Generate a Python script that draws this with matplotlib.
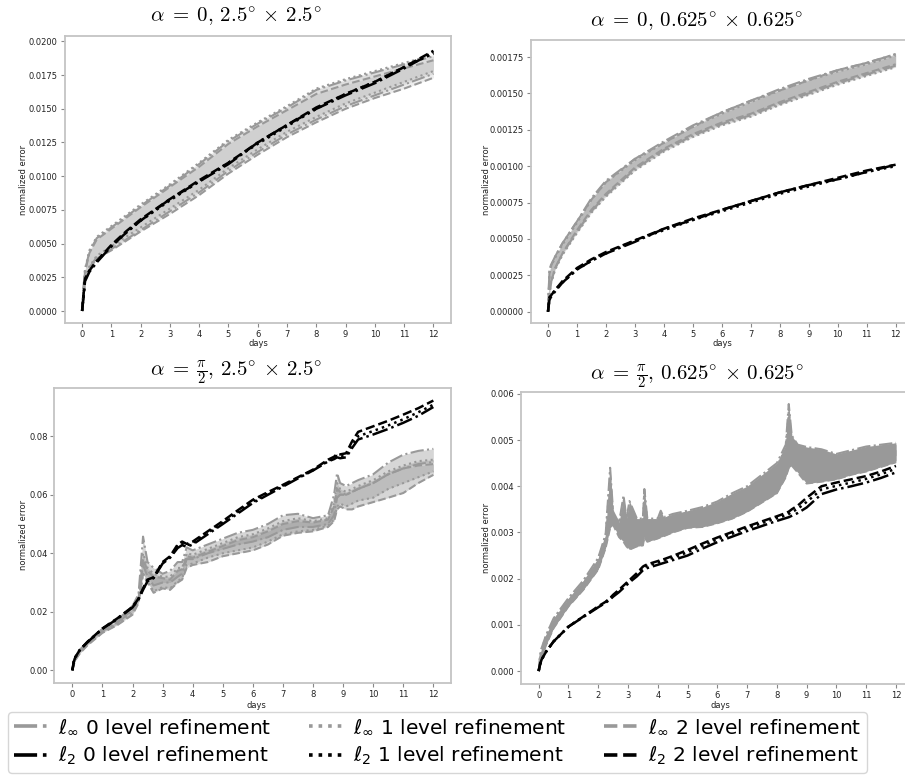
import numpy as np
import matplotlib
matplotlib.use("Agg")
import matplotlib.pyplot as plt
from matplotlib.ticker import FormatStrFormatter, MultipleLocator

# ---------------- data ----------------
days_top = [0, 0.05, 0.1, 0.25, 0.5, 1, 1.5, 2, 3, 4, 5, 6, 7, 8, 9, 10, 11, 12]

# alpha = 0, 2.5 x 2.5
tl_l2_0 = [0, 0.0010, 0.0022, 0.0029, 0.0036, 0.0048, 0.0058, 0.0067, 0.0083, 0.0096, 0.0109, 0.0125, 0.0138, 0.0150, 0.0160, 0.0169, 0.0180, 0.0192]
tl_l2_1 = [0, 0.0011, 0.0023, 0.0030, 0.0037, 0.0048, 0.0058, 0.0067, 0.0082, 0.0096, 0.0110, 0.0124, 0.0137, 0.0150, 0.0161, 0.0170, 0.0181, 0.0191]
tl_l2_2 = [0, 0.0012, 0.0024, 0.0030, 0.0037, 0.0049, 0.0059, 0.0068, 0.0083, 0.0097, 0.0110, 0.0125, 0.0138, 0.0151, 0.0161, 0.0170, 0.0181, 0.0193]
tl_linf_0_hi = [0, 0.0018, 0.0030, 0.0044, 0.0054, 0.0062, 0.0070, 0.0078, 0.0093, 0.0109, 0.0126, 0.0139, 0.0151, 0.0164, 0.0171, 0.0177, 0.0183, 0.0189]
tl_linf_0_lo = [0, 0.0010, 0.0024, 0.0032, 0.0040, 0.0046, 0.0053, 0.0060, 0.0074, 0.0088, 0.0104, 0.0118, 0.0131, 0.0142, 0.0152, 0.0160, 0.0168, 0.0176]
tl_linf_1_hi = [0, 0.0017, 0.0031, 0.0045, 0.0055, 0.0063, 0.0071, 0.0079, 0.0094, 0.0110, 0.0127, 0.0140, 0.0152, 0.0165, 0.0172, 0.0178, 0.0184, 0.0190]
tl_linf_1_lo = [0, 0.0011, 0.0025, 0.0033, 0.0041, 0.0048, 0.0055, 0.0062, 0.0076, 0.0090, 0.0106, 0.0120, 0.0133, 0.0144, 0.0154, 0.0162, 0.0170, 0.0178]
tl_linf_2_hi = [0, 0.0016, 0.0029, 0.0043, 0.0053, 0.0061, 0.0069, 0.0077, 0.0092, 0.0107, 0.0124, 0.0137, 0.0149, 0.0161, 0.0168, 0.0174, 0.0180, 0.0186]
tl_linf_2_lo = [0, 0.0010, 0.0023, 0.0031, 0.0039, 0.0045, 0.0052, 0.0059, 0.0072, 0.0086, 0.0102, 0.0116, 0.0129, 0.0140, 0.0150, 0.0158, 0.0165, 0.0173]

# alpha = 0, 0.625 x 0.625
tr_l2_0 = [0, 0.00008, 0.00010, 0.00014, 0.00020, 0.00029, 0.00035, 0.00040, 0.00048, 0.00057, 0.00063, 0.00070, 0.00076, 0.00082, 0.00087, 0.00091, 0.00096, 0.00101]
tr_l2_1 = [0, 0.00009, 0.00011, 0.00015, 0.00020, 0.00029, 0.00035, 0.00040, 0.00049, 0.00056, 0.00063, 0.00069, 0.00075, 0.00081, 0.00086, 0.00091, 0.00096, 0.00100]
tr_l2_2 = [0, 0.00010, 0.00011, 0.00015, 0.00021, 0.00030, 0.00036, 0.00041, 0.00049, 0.00057, 0.00064, 0.00070, 0.00076, 0.00082, 0.00087, 0.00092, 0.00097, 0.00101]
tr_linf_0_hi = [0, 0.00028, 0.00032, 0.00038, 0.00047, 0.00062, 0.00078, 0.00090, 0.00105, 0.00117, 0.00128, 0.00137, 0.00145, 0.00153, 0.00160, 0.00166, 0.00171, 0.00177]
tr_linf_0_lo = [0, 0.00012, 0.00020, 0.00030, 0.00040, 0.00055, 0.00069, 0.00080, 0.00098, 0.00111, 0.00121, 0.00129, 0.00135, 0.00143, 0.00150, 0.00157, 0.00163, 0.00169]
tr_linf_1_hi = [0, 0.00026, 0.00031, 0.00037, 0.00046, 0.00061, 0.00077, 0.00089, 0.00104, 0.00116, 0.00127, 0.00136, 0.00144, 0.00152, 0.00159, 0.00165, 0.00170, 0.00176]
tr_linf_1_lo = [0, 0.00011, 0.00019, 0.00029, 0.00039, 0.00054, 0.00068, 0.00079, 0.00097, 0.00110, 0.00120, 0.00128, 0.00134, 0.00142, 0.00149, 0.00156, 0.00162, 0.00168]
tr_linf_2_hi = [0, 0.00027, 0.00031, 0.00038, 0.00047, 0.00062, 0.00077, 0.00089, 0.00105, 0.00116, 0.00127, 0.00137, 0.00145, 0.00152, 0.00159, 0.00166, 0.00171, 0.00177]
tr_linf_2_lo = [0, 0.00012, 0.00020, 0.00030, 0.00040, 0.00056, 0.00070, 0.00081, 0.00099, 0.00112, 0.00122, 0.00130, 0.00136, 0.00144, 0.00151, 0.00158, 0.00164, 0.00170]

# alpha = pi/2, 2.5 x 2.5
days_bl = [0, 0.05, 0.1, 0.25, 0.5, 1, 1.5, 2, 2.2, 2.35, 2.5, 2.7, 3, 3.25, 3.5, 3.65, 3.8, 4, 4.5, 5,
           5.5, 6, 6.5, 7, 7.5, 8, 8.5, 8.7, 8.8, 8.9, 9.1, 9.3, 9.5, 10, 10.5, 11, 11.5, 12]
bl_l2_0 = [0, 0.0030, 0.0045, 0.0069, 0.0096, 0.0142, 0.0176, 0.0215, 0.0243, 0.0275, 0.0305, 0.0315, 0.0365, 0.0385, 0.0418, 0.0428, 0.0422, 0.0430, 0.0465, 0.0500,
           0.0536, 0.0572, 0.0600, 0.0628, 0.0656, 0.0683, 0.0714, 0.0722, 0.0728, 0.0725, 0.0728, 0.0760, 0.0789, 0.0806, 0.0825, 0.0846, 0.0870, 0.0900]
bl_l2_1 = [0, 0.0030, 0.0045, 0.0070, 0.0096, 0.0142, 0.0177, 0.0216, 0.0244, 0.0278, 0.0308, 0.0316, 0.0368, 0.0388, 0.0425, 0.0434, 0.0427, 0.0435, 0.0470, 0.0505,
           0.0541, 0.0577, 0.0604, 0.0631, 0.0658, 0.0684, 0.0716, 0.0725, 0.0733, 0.0730, 0.0734, 0.0770, 0.0800, 0.0818, 0.0837, 0.0858, 0.0882, 0.0908]
bl_l2_2 = [0, 0.0030, 0.0045, 0.0070, 0.0097, 0.0143, 0.0178, 0.0217, 0.0245, 0.0280, 0.0310, 0.0318, 0.0370, 0.0390, 0.0430, 0.0440, 0.0432, 0.0440, 0.0475, 0.0510,
           0.0547, 0.0583, 0.0609, 0.0634, 0.0660, 0.0686, 0.0720, 0.0730, 0.0740, 0.0738, 0.0742, 0.0783, 0.0815, 0.0834, 0.0853, 0.0874, 0.0896, 0.0922]
bl_linf_0_hi = [0, 0.0030, 0.0045, 0.0070, 0.0098, 0.0142, 0.0172, 0.0220, 0.0260, 0.0457, 0.0370, 0.0350, 0.0330, 0.0340, 0.0370, 0.0370, 0.0420, 0.0410, 0.0430, 0.0450,
                0.0470, 0.0480, 0.0500, 0.0530, 0.0535, 0.0520, 0.0530, 0.0600, 0.0674, 0.0640, 0.0630, 0.0640, 0.0650, 0.0670, 0.0710, 0.0737, 0.0750, 0.0757]
bl_linf_0_lo = [0, 0.0025, 0.0040, 0.0064, 0.0092, 0.0135, 0.0163, 0.0205, 0.0245, 0.0360, 0.0320, 0.0290, 0.0300, 0.0300, 0.0320, 0.0330, 0.0380, 0.0380, 0.0400, 0.0415,
                0.0430, 0.0440, 0.0455, 0.0480, 0.0490, 0.0490, 0.0500, 0.0530, 0.0590, 0.0600, 0.0600, 0.0610, 0.0620, 0.0640, 0.0670, 0.0690, 0.0705, 0.0712]
bl_linf_1_hi = [0, 0.0029, 0.0044, 0.0068, 0.0095, 0.0139, 0.0168, 0.0212, 0.0250, 0.0400, 0.0350, 0.0330, 0.0320, 0.0320, 0.0350, 0.0350, 0.0400, 0.0395, 0.0415, 0.0435,
                0.0455, 0.0465, 0.0485, 0.0510, 0.0520, 0.0510, 0.0520, 0.0570, 0.0640, 0.0620, 0.0610, 0.0620, 0.0630, 0.0650, 0.0680, 0.0700, 0.0715, 0.0720]
bl_linf_1_lo = [0, 0.0022, 0.0037, 0.0060, 0.0088, 0.0130, 0.0158, 0.0195, 0.0235, 0.0330, 0.0305, 0.0270, 0.0285, 0.0280, 0.0305, 0.0315, 0.0360, 0.0365, 0.0385, 0.0400,
                0.0410, 0.0420, 0.0440, 0.0465, 0.0475, 0.0480, 0.0495, 0.0515, 0.0560, 0.0570, 0.0560, 0.0570, 0.0580, 0.0590, 0.0620, 0.0640, 0.0660, 0.0680]
bl_linf_2_hi = [0, 0.0028, 0.0043, 0.0066, 0.0093, 0.0137, 0.0165, 0.0208, 0.0245, 0.0380, 0.0340, 0.0320, 0.0315, 0.0310, 0.0340, 0.0345, 0.0390, 0.0385, 0.0405, 0.0425,
                0.0445, 0.0455, 0.0475, 0.0500, 0.0510, 0.0505, 0.0515, 0.0560, 0.0620, 0.0610, 0.0600, 0.0610, 0.0620, 0.0640, 0.0670, 0.0690, 0.0700, 0.0705]
bl_linf_2_lo = [0, 0.0020, 0.0035, 0.0058, 0.0085, 0.0128, 0.0155, 0.0190, 0.0230, 0.0330, 0.0300, 0.0265, 0.0280, 0.0275, 0.0300, 0.0310, 0.0350, 0.0360, 0.0370, 0.0390,
                0.0400, 0.0410, 0.0430, 0.0460, 0.0470, 0.0475, 0.0490, 0.0510, 0.0550, 0.0560, 0.0550, 0.0550, 0.0560, 0.0575, 0.0590, 0.0606, 0.0640, 0.0668]

# alpha = pi/2, 0.625 x 0.625
days_br = [0, 0.05, 0.1, 0.25, 0.5, 1, 1.5, 2, 2.25, 2.4, 2.5, 2.7, 2.85, 2.95, 3.05, 3.3, 3.5, 3.55, 3.65, 4,
           4.1, 4.2, 4.5, 5, 5.5, 6, 6.5, 7, 7.5, 8, 8.3, 8.4, 8.5, 8.7, 9, 9.5, 10, 10.5, 11, 11.5, 12]
br_l2_0 = [0, 0.00015, 0.00025, 0.00042, 0.00064, 0.00096, 0.00117, 0.00138, 0.00148, 0.00155, 0.00161, 0.00171, 0.00180, 0.00186, 0.00192, 0.00205, 0.00218, 0.00220, 0.00223, 0.00230,
           0.00232, 0.00234, 0.00240, 0.00250, 0.00265, 0.00279, 0.00291, 0.00303, 0.00314, 0.00325, 0.00331, 0.00333, 0.00336, 0.00342, 0.00354, 0.00383, 0.00393, 0.00400, 0.00408, 0.00418, 0.00430]
br_l2_1 = [0, 0.00015, 0.00025, 0.00042, 0.00064, 0.00096, 0.00118, 0.00139, 0.00149, 0.00157, 0.00163, 0.00174, 0.00183, 0.00189, 0.00195, 0.00209, 0.00222, 0.00225, 0.00228, 0.00235,
           0.00237, 0.00239, 0.00245, 0.00257, 0.00271, 0.00285, 0.00297, 0.00309, 0.00320, 0.00331, 0.00337, 0.00340, 0.00344, 0.00351, 0.00366, 0.00393, 0.00401, 0.00408, 0.00416, 0.00426, 0.00438]
br_l2_2 = [0, 0.00015, 0.00025, 0.00042, 0.00064, 0.00096, 0.00118, 0.00140, 0.00150, 0.00158, 0.00165, 0.00176, 0.00185, 0.00191, 0.00197, 0.00212, 0.00226, 0.00228, 0.00231, 0.00238,
           0.00240, 0.00242, 0.00249, 0.00262, 0.00276, 0.00289, 0.00301, 0.00313, 0.00324, 0.00335, 0.00342, 0.00345, 0.00350, 0.00358, 0.00375, 0.00400, 0.00408, 0.00415, 0.00422, 0.00432, 0.00444]
br_linf_0_hi = [0, 0.00035, 0.00050, 0.00078, 0.00114, 0.00158, 0.00196, 0.00245, 0.00296, 0.00440, 0.00345, 0.00320, 0.00380, 0.00330, 0.00368, 0.00330, 0.00330, 0.00394, 0.00330, 0.00330,
                0.00347, 0.00333, 0.00340, 0.00347, 0.00355, 0.00367, 0.00385, 0.00400, 0.00425, 0.00450, 0.00490, 0.00578, 0.00510, 0.00490, 0.00485, 0.00480, 0.00470, 0.00478, 0.00486, 0.00490, 0.00494]
br_linf_0_lo = [0, 0.00025, 0.00036, 0.00064, 0.00100, 0.00146, 0.00183, 0.00229, 0.00277, 0.00340, 0.00327, 0.00300, 0.00300, 0.00290, 0.00300, 0.00290, 0.00292, 0.00320, 0.00298, 0.00302,
                0.00310, 0.00306, 0.00314, 0.00323, 0.00327, 0.00336, 0.00349, 0.00364, 0.00386, 0.00408, 0.00445, 0.00470, 0.00468, 0.00452, 0.00433, 0.00435, 0.00434, 0.00443, 0.00451, 0.00459, 0.00467]
br_linf_1_hi = [0, 0.00033, 0.00048, 0.00076, 0.00112, 0.00156, 0.00194, 0.00242, 0.00293, 0.00420, 0.00342, 0.00317, 0.00370, 0.00324, 0.00357, 0.00324, 0.00324, 0.00384, 0.00325, 0.00326,
                0.00341, 0.00329, 0.00336, 0.00343, 0.00351, 0.00362, 0.00379, 0.00394, 0.00419, 0.00443, 0.00483, 0.00560, 0.00503, 0.00484, 0.00477, 0.00473, 0.00464, 0.00473, 0.00481, 0.00485, 0.00490]
br_linf_1_lo = [0, 0.00022, 0.00032, 0.00059, 0.00095, 0.00142, 0.00178, 0.00223, 0.00270, 0.00323, 0.00320, 0.00293, 0.00290, 0.00276, 0.00274, 0.00276, 0.00278, 0.00300, 0.00285, 0.00291,
                0.00296, 0.00296, 0.00304, 0.00314, 0.00316, 0.00325, 0.00336, 0.00351, 0.00371, 0.00392, 0.00427, 0.00454, 0.00452, 0.00436, 0.00414, 0.00417, 0.00421, 0.00430, 0.00437, 0.00447, 0.00456]
br_linf_2_hi = [0, 0.00030, 0.00043, 0.00071, 0.00107, 0.00152, 0.00189, 0.00236, 0.00286, 0.00395, 0.00335, 0.00310, 0.00350, 0.00310, 0.00330, 0.00310, 0.00310, 0.00360, 0.00312, 0.00315,
                0.00327, 0.00320, 0.00326, 0.00334, 0.00340, 0.00351, 0.00366, 0.00381, 0.00404, 0.00427, 0.00465, 0.00530, 0.00488, 0.00470, 0.00458, 0.00456, 0.00450, 0.00459, 0.00467, 0.00473, 0.00479]
br_linf_2_lo = [0, 0.00020, 0.00030, 0.00057, 0.00093, 0.00140, 0.00176, 0.00220, 0.00267, 0.00310, 0.00317, 0.00290, 0.00280, 0.00270, 0.00263, 0.00270, 0.00272, 0.00290, 0.00280, 0.00287,
                0.00290, 0.00292, 0.00300, 0.00310, 0.00312, 0.00320, 0.00330, 0.00345, 0.00365, 0.00385, 0.00420, 0.00440, 0.00445, 0.00430, 0.00406, 0.00410, 0.00415, 0.00425, 0.00432, 0.00442, 0.00452]

labels = [r"$\ell_\infty$ 0 level refinement", r"$\ell_2$ 0 level refinement",
          r"$\ell_\infty$ 1 level refinement", r"$\ell_2$ 1 level refinement",
          r"$\ell_\infty$ 2 level refinement", r"$\ell_2$ 2 level refinement"]
titles = [r"$\alpha\;=\;0,\, 2.5^{\circ}\,\times\,2.5^{\circ}$",
          r"$\alpha\;=\;0,\, 0.625^{\circ}\,\times\,0.625^{\circ}$",
          r"$\alpha\;=\;\frac{\pi}{2},\, 2.5^{\circ}\,\times\,2.5^{\circ}$",
          r"$\alpha\;=\;\frac{\pi}{2},\, 0.625^{\circ}\,\times\,0.625^{\circ}$"]
day_ticks = list(range(0, 13))

# ---------------- figure ----------------
W, H = 905, 778
fig = plt.figure(figsize=(W / 100, H / 100), dpi=100)
GRAY = "#999999"
STYLES = ["-.", ":", "--"]


def px_axes(left, right, top, bottom):
    return fig.add_axes([left / W, 1 - bottom / H, (right - left) / W, (bottom - top) / H])


panels = [
    dict(ax=px_axes(64.5, 451, 36, 323), days=days_top,
         l2=[tl_l2_0, tl_l2_1, tl_l2_2],
         linf=[(tl_linf_0_lo, tl_linf_0_hi), (tl_linf_1_lo, tl_linf_1_hi), (tl_linf_2_lo, tl_linf_2_hi)],
         ylim=(-0.00089, 0.0204), step=0.0025, fmt="%.4f", alpha=0.18,
         title=titles[0], tpos=(236, 17), ylab=(24, 180), xlab=(258, 344)),
    dict(ax=px_axes(530.6, 913, 40, 323), days=days_top,
         l2=[tr_l2_0, tr_l2_1, tr_l2_2],
         linf=[(tr_linf_0_lo, tr_linf_0_hi), (tr_linf_1_lo, tr_linf_1_hi), (tr_linf_2_lo, tr_linf_2_hi)],
         ylim=(-0.0000777, 0.001867), step=0.00025, fmt="%.5f", alpha=0.3,
         title=titles[1], tpos=(697, 22), ylab=(486, 180), xlab=(722, 344)),
    dict(ax=px_axes(54.3, 451.4, 388, 683), days=days_bl,
         l2=[bl_l2_0, bl_l2_1, bl_l2_2],
         linf=[(bl_linf_0_lo, bl_linf_0_hi), (bl_linf_1_lo, bl_linf_1_hi), (bl_linf_2_lo, bl_linf_2_hi)],
         ylim=(-0.00434, 0.0965), step=0.02, fmt="%.2f", alpha=0.4,
         title=titles[2], tpos=(236, 372), ylab=(24, 535), xlab=(256, 705)),
    dict(ax=px_axes(520.8, 913.8, 392, 684), days=days_br,
         l2=[br_l2_0, br_l2_1, br_l2_2],
         linf=[(br_linf_0_lo, br_linf_0_hi), (br_linf_1_lo, br_linf_1_hi), (br_linf_2_lo, br_linf_2_hi)],
         ylim=(-0.00028, 0.00604), step=0.001, fmt="%.3f", alpha=1.0,
         title=titles[3], tpos=(697, 376), ylab=(486, 538), xlab=(720, 705)),
]

handles = [None] * 6
for p in panels:
    ax = p["ax"]
    d = p["days"]
    for i, (lo, hi) in enumerate(p["linf"]):
        ax.fill_between(d, lo, hi, color=GRAY, alpha=p["alpha"], lw=0)
        h, = ax.plot(d, hi, STYLES[i], color=GRAY, lw=1.5)
        ax.plot(d, lo, STYLES[i], color=GRAY, lw=1.5)
        handles[2 * i] = h
    for i, y in enumerate(p["l2"]):
        h, = ax.plot(d, y, STYLES[i], color="black", lw=1.8)
        handles[2 * i + 1] = h
    ax.set_xlim(-0.6, 12.6)
    ax.set_ylim(*p["ylim"])
    ax.set_xticks(day_ticks)
    ax.yaxis.set_major_locator(MultipleLocator(p["step"]))
    ax.yaxis.set_major_formatter(FormatStrFormatter(p["fmt"]))
    ax.tick_params(labelsize=6.0, length=3, width=0.8, color="#888888", labelcolor="#222222", pad=1.8)
    for s in ax.spines.values():
        s.set_color("#c4c4c4")
        s.set_linewidth(1.3)
    fig.text(p["tpos"][0] / W, 1 - p["tpos"][1] / H, p["title"], ha="center", va="center",
             fontsize=15, math_fontfamily="cm")
    fig.text(p["ylab"][0] / W, 1 - p["ylab"][1] / H, "normalized error", rotation=90,
             ha="center", va="center", fontsize=6.0, color="#222222")
    fig.text(p["xlab"][0] / W, 1 - p["xlab"][1] / H, "days", ha="center", va="center",
             fontsize=6.0, color="#222222")

leg = fig.legend(handles, labels, ncol=3, loc="upper left",
                 bbox_to_anchor=(8 / W, 1 - 712 / H), borderaxespad=0,
                 fontsize=14.5, frameon=True, edgecolor="#cccccc", fancybox=True,
                 handlelength=1.75, columnspacing=1.85, handletextpad=0.45,
                 borderpad=0.3, labelspacing=0.4)
leg.get_frame().set_linewidth(1.0)
for lh in leg.get_lines():
    lh.set_linewidth(2.6)

fig.savefig("out.png", dpi=100, facecolor="white")
